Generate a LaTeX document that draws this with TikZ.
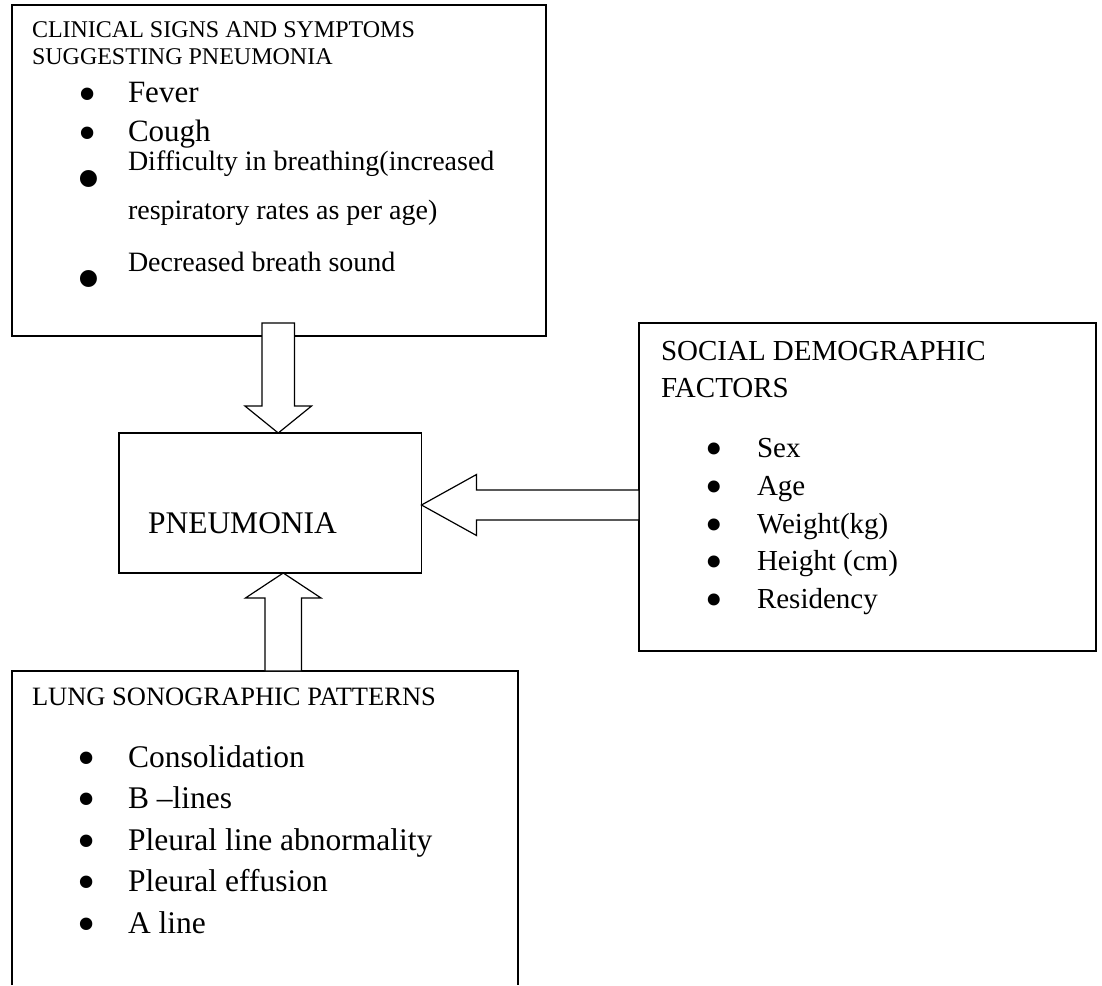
\documentclass[tikz,border=0pt]{standalone}
\usepackage{fontspec}
\setmainfont{Liberation Serif}
\usetikzlibrary{calc}
\tikzset{
  box/.style={line width=1.2pt, inner sep=0pt, outer sep=0pt, anchor=north west},
  txt/.style={anchor=base west, inner sep=0pt, outer sep=0pt},
  bul/.style={anchor=base, inner sep=0pt, outer sep=0pt},
  blk/.style={draw, fill=white, line width=1.2pt, line join=miter},
}
\newcommand\fs[1]{\fontsize{#1}{#1}\selectfont}
\newcommand\bulletmark[1]{\fs{#1}\smash{•}}
% hollow block arrow: name, tail, tip, half shaft width, half head width, head length
\newcommand\blockarrow[6]{%
  \coordinate (#1-b) at ($(#3)!#6!(#2)$);
  \draw[blk] ($(#2)!#4!90:(#3)$) -- ($(#1-b)!#4!90:(#3)$) -- ($(#1-b)!#5!90:(#3)$)
    -- (#3) -- ($(#1-b)!#5!-90:(#3)$) -- ($(#1-b)!#4!-90:(#3)$)
    -- ($(#2)!#4!-90:(#3)$) -- cycle;}
\begin{document}
\begin{tikzpicture}[x=1pt,y=-1pt]
\fill[white] (0,0) rectangle (1102,985);
\useasboundingbox (0,0) rectangle (1102,985);

% boxes
\node[box,draw,minimum width=534pt,minimum height=331pt] (top) at (12,5) {};
\node[box,draw,minimum width=302.5pt,minimum height=140pt] (pn) at (119,433) {};
\node[box,draw,minimum width=457pt,minimum height=328pt] (soc) at (639,323) {};
\node[box,minimum width=506pt,minimum height=314pt] (lung) at (12,671) {};
\draw[line width=1.2pt] (lung.south west) -- (lung.north west) -- (lung.north east) -- (lung.south east);

% clinical signs
\node[txt] (t1) at (32,37) {\fs{24}CLINICAL SIGNS AND SYMPTOMS};
\node[txt] (t2) at (32,64) {\fs{24}SUGGESTING PNEUMONIA};
\node[bul] (tb1) at (87.5,111) {\bulletmark{52}};
\node[txt] (ti1) at (128,102) {\fs{31}Fever};
\node[bul] (tb2) at (87.5,150) {\bulletmark{52}};
\node[txt] (ti2) at (128,141) {\fs{31}Cough};
\node[bul] (tb3) at (89,202) {\bulletmark{71}};
\node[txt] (ti3) at (128,170) {\fs{28}Difficulty in breathing(increased};
\node[txt] (ti3b) at (128,219) {\fs{28}respiratory rates as per age)};
\node[bul] (tb4) at (89,302) {\bulletmark{71}};
\node[txt] (ti4) at (128,271) {\fs{28}Decreased breath sound};

% pneumonia
\node[txt] (pnt) at (148,533) {\fs{31.5}PNEUMONIA};

% social demographic factors
\node[txt] (s1) at (661,360) {\fs{29}SOCIAL DEMOGRAPHIC};
\node[txt] (s2) at (661,397) {\fs{29}FACTORS};
\foreach \y/\t [count=\i] in {457/Sex,495/Age,533/Weight(kg),570/Height (cm),608/Residency}{
  \node[bul] (sb\i) at (714.5,\y+8) {\bulletmark{50}};
  \node[txt] (si\i) at (757,\y) {\fs{29}\t};
}

% lung sonographic patterns
\node[txt] (l1) at (32,705) {\fs{26.5}LUNG SONOGRAPHIC PATTERNS};
\foreach \y/\t [count=\i] in {767/Consolidation,808/B –lines,850/Pleural line abnormality,891/Pleural effusion,933/A line}{
  \node[bul] (lb\i) at (86.5,\y+8) {\bulletmark{52}};
  \node[txt] (li\i) at (128,\y) {\fs{31.5}\t};
}

% arrows into the pneumonia box
\coordinate (dTip) at ([xshift=8pt]pn.north);
\coordinate (dTail) at ($(dTip |- top.south)+(0,-13)$);
\blockarrow{da}{dTail}{dTip}{16.2pt}{33.3pt}{27pt}
\coordinate (uTip) at ([xshift=13pt]pn.south);
\coordinate (uTail) at (uTip |- lung.north);
\blockarrow{ua}{uTail}{uTip}{18.3pt}{37.8pt}{25pt}
\coordinate (lTip) at ([yshift=-2pt]pn.east);
\coordinate (lTail) at (lTip -| soc.west);
\blockarrow{la}{lTail}{lTip}{15pt}{30.5pt}{55pt}
\end{tikzpicture}
\end{document}
